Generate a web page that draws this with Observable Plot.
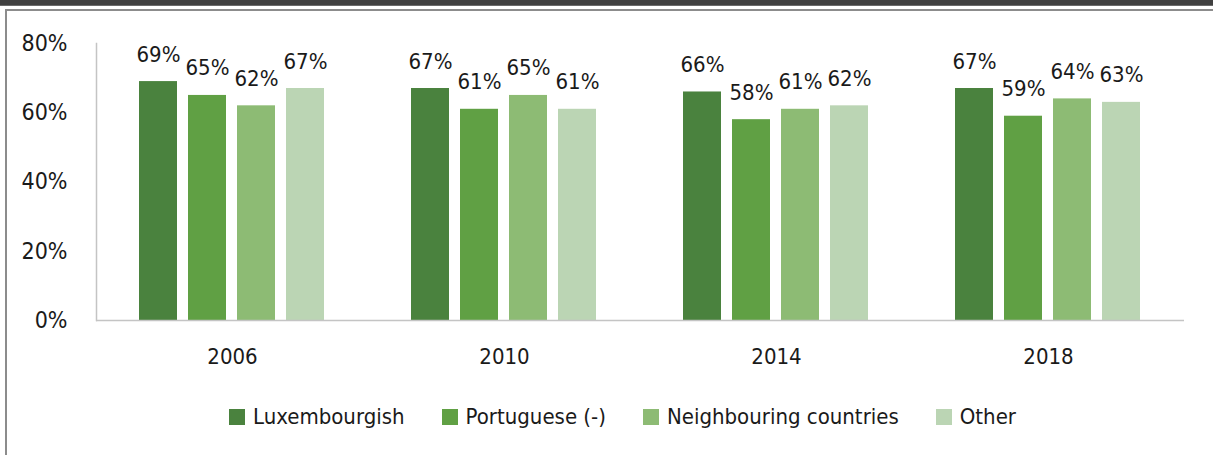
<!DOCTYPE html>
<html>
<head>
<meta charset="utf-8">
<script src="https://cdn.jsdelivr.net/npm/d3@7"></script>
<script src="https://cdn.jsdelivr.net/npm/@observablehq/plot@0.6"></script>
<style>
  html, body { margin: 0; padding: 0; background: #fff; }
  body { width: 1213px; height: 455px; position: relative; overflow: hidden;
         font-family: "Liberation Sans Narrow", "DejaVu Sans Condensed", "Roboto", sans-serif; color: #1a1a1a; }
  #topbar { position: absolute; left: 0; top: 0; width: 1213px; height: 5px; background: #404040; border-bottom: 1px solid #6a6a6a; }
  #box { position: absolute; left: 5px; top: 9px; width: 1220px; height: 460px;
         border-top: 2px solid #8c8c8c; border-left: 2px solid #8c8c8c; box-sizing: border-box; }
  #chart { position: absolute; left: 0; top: 0; }
  #legend { position: absolute; left: 229px; top: 402px; display: flex; gap: 37px; font-size: 22px; line-height: 30px; }
  .item { display: flex; align-items: center; white-space: nowrap; }
  .sw { width: 16px; height: 16px; margin-right: 8px; display: inline-block; }
</style>
</head>
<body>
<div id="topbar"></div>
<div id="box"></div>
<div id="chart"></div>
<div id="legend"></div>
<script>
const years = ["2006", "2010", "2014", "2018"];
const groups = ["Luxembourgish", "Portuguese (-)", "Neighbouring countries", "Other"];
const luxembourgish = [69, 67, 66, 67];
const portuguese = [65, 61, 58, 59];
const neighbouring = [62, 65, 61, 64];
const other = [67, 61, 62, 63];
const colors = ["#4a823e", "#60a044", "#8dbb74", "#bbd5b4"];
const yTicks = [0, 20, 40, 60, 80];

const series = [luxembourgish, portuguese, neighbouring, other];
const data = years.flatMap((yr, i) => groups.map((g, j) => ({year: yr, group: g, value: series[j][i]})));

const font = '"Liberation Sans Narrow", "DejaVu Sans Condensed", "Roboto", sans-serif';

const chart = Plot.plot({
  width: 1213,
  height: 385,
  marginLeft: 95,
  marginRight: 28,
  marginTop: 43,
  marginBottom: 65,
  style: {fontFamily: font, fontSize: "22px", background: "transparent", color: "#1a1a1a"},
  fx: {domain: years, padding: 0, label: null, axis: null},
  x: {domain: groups, paddingInner: 0.22, paddingOuter: 0.835, axis: null},
  y: {domain: [0, 80], axis: null},
  color: {domain: groups, range: colors},
  marks: [
    Plot.axisY({ticks: yTicks, tickSize: 0, tickPadding: 29, tickFormat: d => d + "%", label: null, fontSize: 23}),
    Plot.axisFx({anchor: "bottom", tickSize: 0, tickPadding: 28, label: null, fontSize: 22}),
    Plot.barY(data, {fx: "year", x: "group", y: "value", fill: "group"}),
    Plot.text(data, {fx: "year", x: "group", y: "value", text: d => d.value + "%", lineAnchor: "bottom", dy: -20, fontSize: 22, fill: "#1a1a1a"}),
    Plot.ruleY([0], {stroke: "#c4c4c4", strokeWidth: 1.5}),
    Plot.frame({anchor: "left", stroke: "#c4c4c4", strokeWidth: 1.5, facetAnchor: "left"})
  ]
});
document.getElementById("chart").appendChild(chart);

const legend = document.getElementById("legend");
groups.forEach((g, j) => {
  const item = document.createElement("div");
  item.className = "item";
  const sw = document.createElement("span");
  sw.className = "sw";
  sw.style.background = colors[j];
  item.appendChild(sw);
  item.appendChild(document.createTextNode(g));
  legend.appendChild(item);
});
</script>
</body>
</html>
